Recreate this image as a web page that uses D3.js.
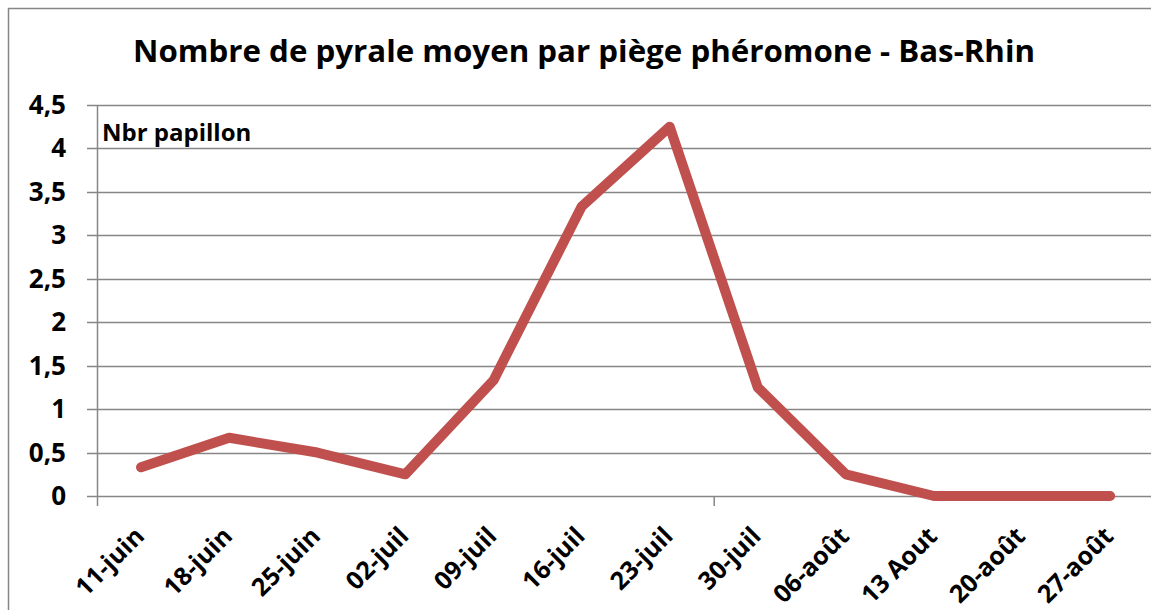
<!DOCTYPE html>
<html>
<head>
<meta charset="utf-8">
<script src="https://cdn.jsdelivr.net/npm/d3@7"></script>
<style>
body{margin:0;background:#fff;}
text{font-family:"Open Sans",Lato,sans-serif;font-weight:bold;fill:#000;}
</style>
</head>
<body>
<div id="chart"></div>
<script>
// data
var dates = ["11-juin","18-juin","25-juin","02-juil","09-juil","16-juil","23-juil","30-juil","06-août","13 Aout","20-août","27-août"]
var pyrales = [0.33,0.67,0.5,0.25,1.33,3.33,4.25,1.25,0.25,0,0,0]
var yTicks = [0,0.5,1,1.5,2,2.5,3,3.5,4,4.5]

var width = 1151, height = 610
var plot_left = 97, plot_top = 105, plot_bottom = 496
var band = 88.1
var plot_right = plot_left + band*dates.length

var svg = d3.select("#chart").append("svg")
  .attr("width", width).attr("height", height)

//outer frame
svg.append("rect").attr("x",8.5).attr("y",8.5)
  .attr("width", 1160).attr("height", 620)
  .style("fill","none").style("stroke","#868686").style("stroke-width",1.5)

var x = d3.scaleBand().domain(dates).range([plot_left, plot_right])
var y = d3.scaleLinear().domain([0,4.5]).range([plot_bottom, plot_top])

//gridlines + y ticks
svg.selectAll(".grid").data(yTicks).enter()
  .append("line")
  .attr("x1", plot_left-10).attr("x2", width+10)
  .attr("y1", function(d){return Math.round(y(d))+0.5})
  .attr("y2", function(d){return Math.round(y(d))+0.5})
  .style("stroke","#868686").style("stroke-width",1.5)

var fmt = function(d){return String(d).replace(".",",")}
svg.selectAll(".ylab").data(yTicks).enter()
  .append("text")
  .attr("x", 66).attr("y", function(d){return y(d)+9})
  .attr("text-anchor","end")
  .style("font-size","26px")
  .text(fmt)

//y axis line
svg.append("line").attr("x1",plot_left+0.5).attr("x2",plot_left+0.5)
  .attr("y1", plot_top).attr("y2", plot_bottom+10)
  .style("stroke","#868686").style("stroke-width",1.5)

//x tick marks (only at the boundaries that excel drew)
var xTickIdx = [7]
svg.selectAll(".xtick").data(xTickIdx).enter()
  .append("line")
  .attr("x1", function(i){return x(dates[i])+0.5})
  .attr("x2", function(i){return x(dates[i])+0.5})
  .attr("y1", plot_bottom).attr("y2", plot_bottom+10)
  .style("stroke","#868686").style("stroke-width",1.5)

//x labels
svg.selectAll(".xlab").data(dates).enter()
  .append("text")
  .attr("transform", function(d){
    var cx = x(d)+x.bandwidth()/2-8
    return "translate("+cx+",525) rotate(-45)"
  })
  .attr("text-anchor","end")
  .attr("dy","0.72em")
  .style("font-size","25px")
  .text(function(d){return d})

//line
var line = d3.line()
  .x(function(d,i){return x(dates[i])+x.bandwidth()/2})
  .y(function(d){return y(d)})
svg.append("path").datum(pyrales)
  .attr("d", line)
  .style("fill","none").style("stroke","#C0504D")
  .style("stroke-width",10)
  .style("stroke-linejoin","round").style("stroke-linecap","round")

//title
svg.append("text").attr("x",584).attr("y",62)
  .attr("text-anchor","middle")
  .style("font-size","30px")
  .attr("textLength",902).attr("lengthAdjust","spacingAndGlyphs")
  .text("Nombre de pyrale moyen par piège phéromone - Bas-Rhin")

svg.append("text").attr("x",102).attr("y",141)
  .style("font-size","24px")
  .text("Nbr papillon")
</script>
</body>
</html>
